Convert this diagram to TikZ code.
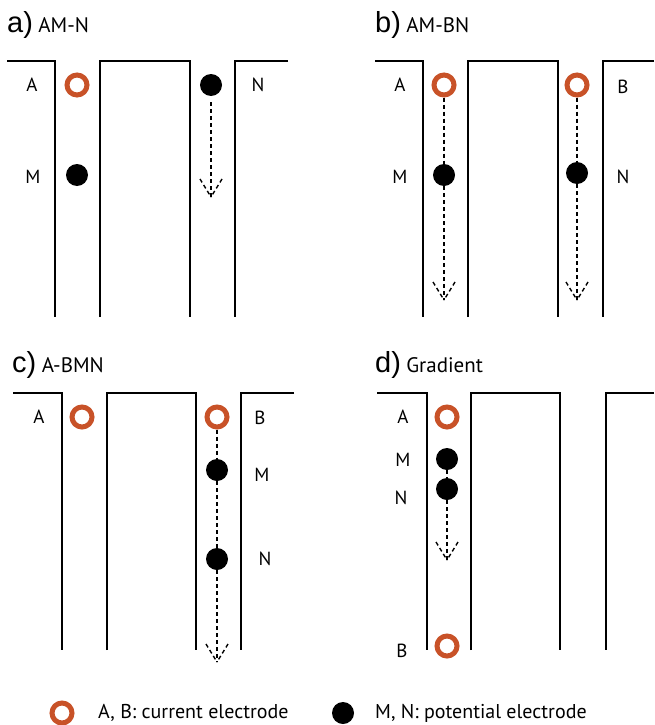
\documentclass[tikz,border=0pt]{standalone}
\usepackage{fontspec}
\setmainfont{PT Sans}
\newfontfamily\helv{Liberation Sans}
\usetikzlibrary{positioning}
\definecolor{elec}{RGB}{200,82,40}
\tikzset{
  wall/.style={line width=1.6pt},
  curr/.style={circle, draw=elec, line width=5pt, minimum size=20pt, inner sep=0pt},
  pot/.style={circle, fill=black, minimum size=22pt, inner sep=0pt},
  lbl/.style={font=\fontsize{19}{19}\selectfont, inner sep=0pt},
  probe/.style={dash pattern=on 4pt off 3pt, line width=1.4pt},
  panel/.style={font=\helv\fontsize{29}{29}\selectfont, inner sep=0pt, anchor=base west},
  cfg/.style={font=\fontsize{21}{21}\selectfont, inner sep=0pt},
  leg/.style={font=\fontsize{20}{20}\selectfont, inner sep=0pt, anchor=base west},
  dtip/.pic={\draw[probe] (-11,-18) -- (0,0); \draw[probe] (11,-18) -- (0,0);}
}

\begin{document}
\begin{tikzpicture}[x=1pt, y=-1pt]
    \useasboundingbox (0,0) rectangle (654,725);

    % a) AM-N
    \node[panel] (ta) at (7,33) {a)};
    \node[cfg, right=5pt of ta.base east, anchor=base west] (sa) {AM-N};
    \draw[wall] (7,61) -- (55,61) -- (55,317);
    \draw[wall] (100,317) -- (100,61) -- (190,61) -- (190,317);
    \draw[wall] (288,61) -- (235,61) -- (235,317);
    \node[curr] (aA) at (77,85) {};
    \node[pot] (aM) at (77,175) {};
    \node[pot] (aN) at (211,85) {};
    \coordinate (aE) at (211,197);
    \node[lbl] (laA) at (32,85) {A};
    \node[lbl] (laM) at (33,177) {M};
    \node[lbl] (laN) at (258,85) {N};
    \draw[probe, shorten <=6pt] (aN) -- (aE);
    \pic at (aE) {dtip};

    % b) AM-BN
    \node[panel] (tb) at (375,33) {b)};
    \node[cfg, right=5pt of tb.base east, anchor=base west] (sb) {AM-BN};
    \draw[wall] (375,61) -- (423,61) -- (423,317);
    \draw[wall] (468,317) -- (468,61) -- (558,61) -- (558,317);
    \draw[wall] (654,61) -- (603,61) -- (603,317);
    \node[curr] (bA) at (444,85) {};
    \node[pot] (bM) at (444,175) {};
    \node[curr] (bB) at (577,85) {};
    \node[pot] (bN) at (577,173) {};
    \coordinate (bE1) at (444,300);
    \coordinate (bE2) at (577,300);
    \node[lbl] (lbA) at (400,85) {A};
    \node[lbl] (lbM) at (400,177) {M};
    \node[lbl] (lbB) at (623,87) {B};
    \node[lbl] (lbN) at (623,177) {N};
    \draw[probe] (bA) -- (bM);
    \draw[probe] (bM) -- (bE1);
    \draw[probe] (bB) -- (bN);
    \draw[probe] (bN) -- (bE2);
    \pic at (bE1) {dtip};
    \pic at (bE2) {dtip};

    % c) A-BMN
    \node[panel] (tc) at (12,372) {c)};
    \node[cfg, right=5pt of tc.base east, anchor=base west] (sc) {A-BMN};
    \draw[wall] (13,393) -- (62,393) -- (62,650);
    \draw[wall] (107,650) -- (107,393) -- (196,393) -- (196,650);
    \draw[wall] (294,393) -- (241,393) -- (241,650);
    \node[curr] (cA) at (82,417) {};
    \node[curr] (cB) at (217,417) {};
    \node[pot] (cM) at (217,470) {};
    \node[pot] (cN) at (217,559) {};
    \coordinate (cE) at (217,662);
    \node[lbl] (lcA) at (39,417) {A};
    \node[lbl] (lcB) at (260,418) {B};
    \node[lbl] (lcM) at (262,475) {M};
    \node[lbl] (lcN) at (265,559) {N};
    \draw[probe] (cB) -- (cM);
    \draw[probe] (cM) -- (cN);
    \draw[probe] (cN) -- (cE);
    \pic at (cE) {dtip};

    % d) Gradient
    \node[panel] (td) at (375,372) {d)};
    \node[cfg, right=5pt of td.base east, anchor=base west] (sd) {Gradient};
    \draw[wall] (377,393) -- (427,393) -- (427,650);
    \draw[wall] (471,650) -- (471,393) -- (560,393) -- (560,650);
    \draw[wall] (654,393) -- (606,393) -- (606,650);
    \node[curr] (dA) at (447,417) {};
    \node[pot] (dM) at (447,459) {};
    \node[pot] (dN) at (447,489) {};
    \node[curr] (dB) at (447,646) {};
    \coordinate (dE) at (447,560);
    \node[lbl] (ldA) at (403,417) {A};
    \node[lbl] (ldM) at (403,460) {M};
    \node[lbl] (ldN) at (401,498) {N};
    \node[lbl] (ldB) at (402,651) {B};
    \draw[probe] (dM) -- (dN);
    \draw[probe] (dN) -- (dE);
    \pic at (dE) {dtip};

    % legend
    \node[curr] (kA) at (62,713) {};
    \node[leg] (tkA) at (98,718) {A, B: current electrode};
    \node[pot] (kM) at (343,713) {};
    \node[leg] (tkM) at (375,718) {M, N: potential electrode};
\end{tikzpicture}
\end{document}
